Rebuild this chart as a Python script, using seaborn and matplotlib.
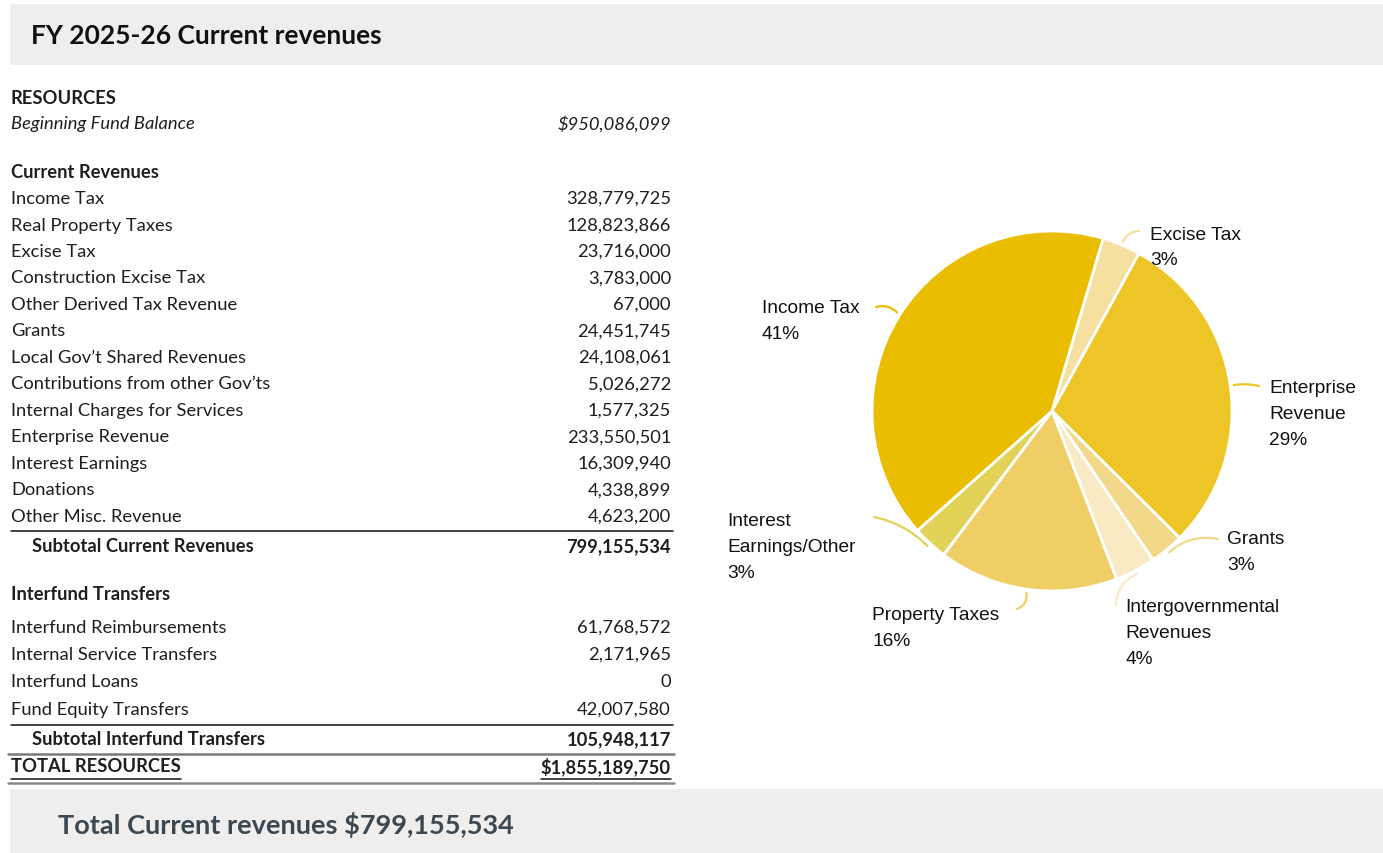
import matplotlib
matplotlib.use("Agg")
import matplotlib.pyplot as plt
from matplotlib.patches import Rectangle
import numpy as np
import seaborn as sns

# ---------------------------------------------------------------- data
title = "FY 2025-26 Current revenues"
footer_label = "Total Current revenues"

beginning_label = "Beginning Fund Balance"
beginning_balance = 950086099

revenue_items = [
    "Income Tax", "Real Property Taxes", "Excise Tax", "Construction Excise Tax",
    "Other Derived Tax Revenue", "Grants", "Local Gov\u2019t Shared Revenues",
    "Contributions from other Gov\u2019ts", "Internal Charges for Services",
    "Enterprise Revenue", "Interest Earnings", "Donations", "Other Misc. Revenue",
]
revenue_values = [
    328779725, 128823866, 23716000, 3783000, 67000, 24451745, 24108061,
    5026272, 1577325, 233550501, 16309940, 4338899, 4623200,
]

transfer_items = [
    "Interfund Reimbursements", "Internal Service Transfers",
    "Interfund Loans", "Fund Equity Transfers",
]
transfer_values = [61768572, 2171965, 0, 42007580]

# pie categories, each built from rows of the revenue table
pie_labels = [
    "Excise Tax", "Enterprise\nRevenue", "Grants", "Intergovernmental\nRevenues",
    "Property Taxes", "Interest\nEarnings/Other", "Income Tax",
]
pie_groups = [
    ["Excise Tax", "Construction Excise Tax", "Other Derived Tax Revenue"],
    ["Enterprise Revenue", "Internal Charges for Services"],
    ["Grants"],
    ["Local Gov\u2019t Shared Revenues", "Contributions from other Gov\u2019ts"],
    ["Real Property Taxes"],
    ["Interest Earnings", "Donations", "Other Misc. Revenue"],
    ["Income Tax"],
]
pie_colors = ["#F5E0A0", "#EEC526", "#F3D88A", "#FAEAC3", "#F0CE66", "#E2D257", "#EBBD00"]

# ---------------------------------------------------------------- totals
lookup = dict(zip(revenue_items, revenue_values))
pie_values = [sum(lookup[k] for k in g) for g in pie_groups]
subtotal_rev = sum(revenue_values)
subtotal_tr = sum(transfer_values)
total_res = beginning_balance + subtotal_rev + subtotal_tr

# ---------------------------------------------------------------- style
sns.set_theme(style="white")
TABLE_FONT = ["Lato", "DejaVu Sans"]
PIE_FONT = ["Liberation Sans", "DejaVu Sans"]
plt.rcParams["font.family"] = TABLE_FONT

W, H = 1383, 854
fig = plt.figure(figsize=(W / 100, H / 100), dpi=100)
fig.patch.set_facecolor("white")

# ---------------------------------------------------------------- pie
CX, CY, R = 1052, 412, 180          # centre and radius in pixels
ax = fig.add_axes([(CX - 2 * R) / W, (H - CY - 2 * R) / H, 4 * R / W, 4 * R / H])
wedges, _ = ax.pie(pie_values, colors=pie_colors, startangle=73.5,
                   counterclock=False, radius=1,
                   wedgeprops=dict(edgecolor="white", linewidth=2))
ax.set_xlim(-2, 2)
ax.set_ylim(-2, 2)
ax.set_aspect("equal")
ax.axis("off")
ax.set_zorder(1)

# full-figure canvas in pixel units (y grows downward), drawn above the pie
bg = fig.add_axes([0, 0, 1, 1])
bg.set_xlim(0, W)
bg.set_ylim(H, 0)
bg.axis("off")
bg.patch.set_alpha(0)
bg.set_zorder(2)

band = "#EFEEEC"
bg.add_patch(Rectangle((10, 5), W - 10, 61, color=band, lw=0, zorder=0))
bg.add_patch(Rectangle((10, 790), W - 10, 64, color=band, lw=0, zorder=0))

bg.text(31, 36, title, fontsize=19, fontweight="bold", color="#111111",
        va="center", ha="left")
bg.text(58, 825, f"{footer_label} ${subtotal_rev:,}", fontsize=19.5,
        fontweight="bold", color="#3B4851", va="center", ha="left")

# ---------------------------------------------------------------- table
LX, RX = 11, 671
FS = 13.2
txt = "#1E1E1E"


def row(y, label, value=None, bold=False, italic=False, indent=0):
    kw = dict(fontsize=FS, color=txt, va="center",
              fontweight="bold" if bold else "normal",
              fontstyle="italic" if italic else "normal")
    bg.text(LX + indent, y, label, ha="left", **kw)
    if value is not None:
        bg.text(RX, y, value, ha="right", **kw)


row(98, "RESOURCES", bold=True)
row(124, beginning_label, f"${beginning_balance:,}", italic=True)
row(173, "Current Revenues", bold=True)
y0, dy = 199, 26.5
for i, (lab, val) in enumerate(zip(revenue_items, revenue_values)):
    row(y0 + i * dy, lab, f"{val:,}")
bg.plot([LX, RX + 2], [532, 532], color="#111111", lw=1.1)
row(547, "Subtotal Current Revenues", f"{subtotal_rev:,}", bold=True, indent=21)

row(595, "Interfund Transfers", bold=True)
ty = [628, 655, 682, 710]
for y, lab, val in zip(ty, transfer_items, transfer_values):
    row(y, lab, f"{val:,}")
bg.plot([LX, RX + 2], [726, 726], color="#111111", lw=1.1)
row(740, "Subtotal Interfund Transfers", f"{subtotal_tr:,}", bold=True, indent=21)
bg.plot([8, RX + 3], [755, 755], color="#7A7A7A", lw=1.8)

t1 = bg.text(LX, 767, "TOTAL RESOURCES", fontsize=FS, fontweight="bold",
             color=txt, va="center", ha="left")
t2 = bg.text(RX, 767, f"${total_res:,}", fontsize=FS, fontweight="bold",
             color=txt, va="center", ha="right")
fig.canvas.draw()
inv = bg.transData.inverted()
for t in (t1, t2):
    bb = t.get_window_extent()
    (x0, _), (x1, _) = inv.transform([(bb.x0, 0), (bb.x1, 0)])
    bg.plot([x0, x1], [779.5, 779.5], color="#111111", lw=1.1)
bg.plot([8, RX + 3], [784, 784], color="#8A8A8A", lw=1.8)

# ---------------------------------------------------------------- pie labels
total_pie = sum(pie_values)
# label anchor (x, first-line y), leader start point (pixels), leader curvature
label_pos = [
    ((1150, 235), (1139, 232), 0.3),
    ((1269, 389), (1259, 387), 0.1),
    ((1227, 540), (1218, 540), 0.25),
    ((1125, 608), (1116, 606), -0.3),
    ((872, 616), (1017, 610), 0.4),
    ((727, 522), (874, 518), -0.15),
    ((762, 309), (876, 308), -0.3),
]

for w, lab, val, col, ((tx, tyy), (sx, sy), rad) in zip(
        wedges, pie_labels, pie_values, pie_colors, label_pos):
    pct = round(val / total_pie * 100)
    lines = lab.split("\n") + [f"{pct}%"]
    for k, ln in enumerate(lines):
        bg.text(tx, tyy + k * 26, ln, fontsize=13.8, family=PIE_FONT,
                color="#111111", ha="left", va="center")
    mid = np.deg2rad((w.theta1 + w.theta2) / 2)
    ex, ey = ax.transData.transform((1.02 * np.cos(mid), 1.02 * np.sin(mid)))
    ex, ey = inv.transform((ex, ey))
    bg.annotate("", xy=(ex, ey), xytext=(sx, sy),
                arrowprops=dict(arrowstyle="-", color=col, lw=1.6,
                                connectionstyle=f"arc3,rad={rad}",
                                shrinkA=0, shrinkB=0))

fig.savefig("out.png", dpi=100, facecolor="white")
